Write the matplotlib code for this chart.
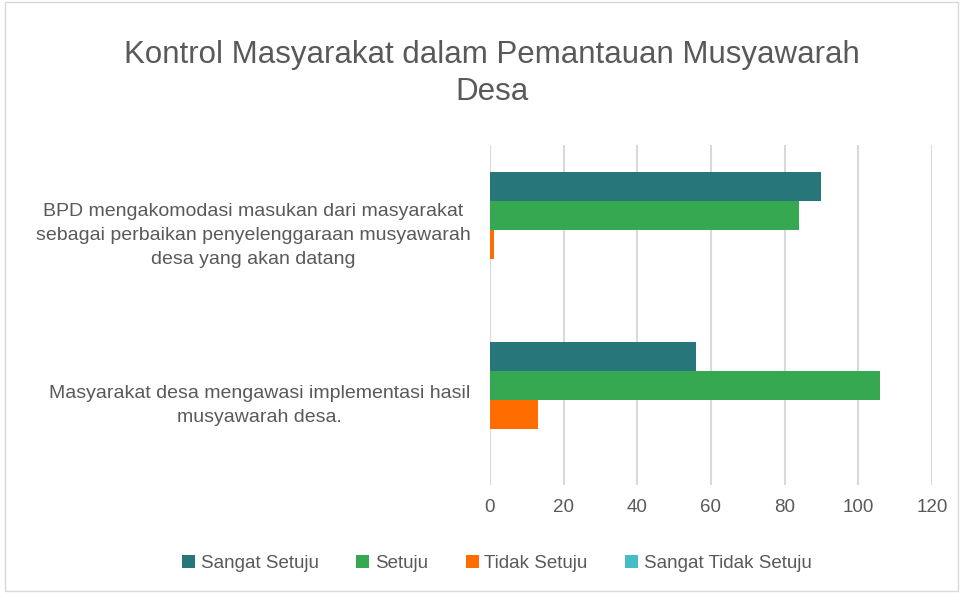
import matplotlib.pyplot as plt
import numpy as np
from matplotlib.patches import Rectangle

# data
categories = [
    "BPD mengakomodasi masukan dari masyarakat\nsebagai perbaikan penyelenggaraan musyawarah\ndesa yang akan datang",
    "Masyarakat desa mengawasi implementasi hasil\nmusyawarah desa.",
]
series_names = ["Sangat Setuju", "Setuju", "Tidak Setuju", "Sangat Tidak Setuju"]
sangat_setuju = [90, 56]
setuju = [84, 106]
tidak_setuju = [1, 13]
sangat_tidak_setuju = [0, 0]
colors = ["#26767A", "#36A852", "#FF6D00", "#46BDC6"]
x_ticks = [0, 20, 40, 60, 80, 100, 120]

plt.rcParams['font.family'] = ['Liberation Sans', 'DejaVu Sans']
text_col = "#595959"

fig = plt.figure(figsize=(9.63, 5.93), dpi=100)
ax = fig.add_axes([0.5088, 0.182, 0.459, 0.5735])

values = [sangat_setuju, setuju, tidak_setuju, sangat_tidak_setuju]
y = np.arange(len(categories))
h = 0.172
for i, (name, vals) in enumerate(zip(series_names, values)):
    ax.barh(y + (i - 1.5) * h, vals, height=h, color=colors[i], label=name, zorder=3)

ax.set_ylim(1.5, -0.5)
ax.set_xlim(0, 120)
ax.set_xticks(x_ticks)
ax.set_yticks(y)
ax.set_yticklabels(categories, ma='center', linespacing=1.55)
ax.tick_params(axis='y', length=0, pad=14, labelsize=14, labelcolor=text_col)
ax.tick_params(axis='x', length=0, pad=10, labelsize=13.5, labelcolor=text_col)
ax.grid(axis='x', color="#D9D9D9", linewidth=1.5, zorder=0)
for s in ax.spines.values():
    s.set_visible(False)

fig.text(0.511, 0.876, "Kontrol Masyarakat dalam Pemantauan Musyawarah\nDesa",
         ha='center', va='center', fontsize=22.5, color=text_col, linespacing=1.3)

leg = fig.legend(loc='center', bbox_to_anchor=(0.516, 0.05), ncol=4, frameon=False,
                 fontsize=13.5, handlelength=0.7, handleheight=0.7, handletextpad=0.3,
                 columnspacing=2.0)
for t in leg.get_texts():
    t.set_color(text_col)

fig.patches.append(Rectangle((0.005, 0.003), 0.99, 0.994, transform=fig.transFigure,
                             fill=False, edgecolor="#D9D9D9", linewidth=1))

fig.savefig("out.png", dpi=100)
